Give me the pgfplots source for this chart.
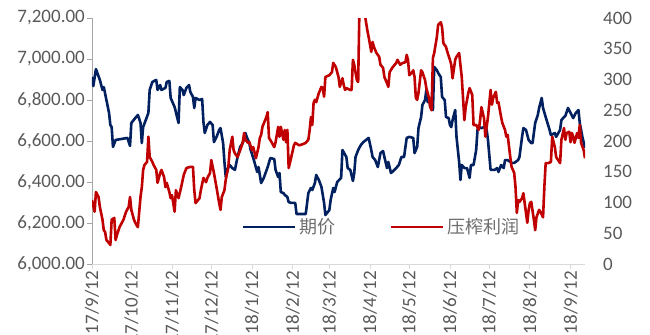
\documentclass[border=0pt]{standalone}
\usepackage{fontspec}
\setmainfont{Carlito}
\newfontfamily\cjk{Noto Sans CJK SC}
\usepackage{pgfplots}
\pgfplotsset{compat=1.18}

\definecolor{futures}{HTML}{002060}
\definecolor{margin}{HTML}{C00000}
\definecolor{labelgray}{HTML}{595959}
\definecolor{legendgray}{HTML}{6E6E6E}
\definecolor{leftaxis}{HTML}{A6A6A6}
\definecolor{baseaxis}{HTML}{D9D9D9}

\pgfplotsset{
  twin/.style={
    scale only axis, width=493bp, height=246bp,
    xmin=0, xmax=376,
    tick label style={font=\fontsize{19bp}{22bp}\selectfont, text=labelgray},
    /pgf/number format/assume math mode=true,
  },
}

\begin{document}
\begin{tikzpicture}
\useasboundingbox (-92bp,-71bp) rectangle (558bp,264bp);

% left axis: futures price
\begin{axis}[twin,
  ymin=6000, ymax=7200, ytick={6000,6200,...,7200},
  axis y line*=left, axis x line*=bottom,
  y axis line style={leftaxis, line width=0.9bp, -},
  x axis line style={baseaxis, line width=0.9bp, -},
  tick align=outside, major tick length=5bp,
  y tick style={leftaxis, line width=0.9bp},
  x tick style={baseaxis, line width=0.9bp},
  y tick label style={inner sep=2bp, /pgf/number format/fixed, /pgf/number format/fixed zerofill,
    /pgf/number format/precision=2, /pgf/number format/1000 sep={,}},
  xtick={0,30,61,91,122,153,181,212,242,273,303,334,365},
  xticklabels={17/9/12,17/10/12,17/11/12,17/12/12,18/1/12,18/2/12,18/3/12,18/4/12,18/5/12,18/6/12,18/7/12,18/8/12,18/9/12},
  x tick label style={rotate=90, anchor=east, inner sep=2bp},
]
\addplot[futures, line width=2.6bp, line join=round] coordinates {
(0,6912)(1,6868)(3,6951)(6,6898)(8,6849)(9,6863)(11,6800)(13,6737)(14,6678)(15,6668)(16,6571)(18,6605)(27,6615)(29,6576)(30,6688)(33,6712)(35,6727)(37,6688)(38,6590)(39,6668)(41,6702)(43,6737)(44,6849)(46,6888)(49,6898)(50,6849)(52,6873)(53,6849)(56,6859)(57,6888)(59,6893)(60,6810)(63,6766)(66,6688)(67,6863)(69,6849)(70,6824)(72,6859)(74,6873)(75,6839)(77,6815)(78,6761)(79,6810)(82,6800)(84,6805)(85,6693)(86,6639)(88,6678)(90,6693)(92,6678)(93,6595)(95,6620)(97,6654)(98,6663)(100,6590)(101,6498)(102,6424)(104,6473)(105,6483)(107,6468)(109,6459)(111,6522)(113,6571)(115,6590)(117,6639)(118,6620)(120,6590)(121,6556)(123,6517)(126,6449)(127,6473)(129,6395)(131,6420)(134,6473)(136,6517)(139,6512)(140,6459)(142,6424)(143,6444)(144,6351)(146,6346)(147,6337)(149,6327)(150,6302)(152,6298)(155,6298)(156,6244)(163,6244)(165,6346)(167,6371)(168,6361)(170,6395)(171,6434)(173,6410)(175,6376)(177,6298)(178,6239)(181,6263)(182,6312)(184,6371)(185,6351)(187,6400)(190,6420)(191,6556)(194,6522)(195,6468)(197,6459)(199,6405)(200,6444)(201,6522)(203,6556)(205,6580)(207,6595)(210,6610)(211,6615)(213,6556)(214,6522)(216,6507)(218,6473)(220,6541)(222,6551)(223,6522)(225,6468)(226,6498)(228,6444)(229,6449)(232,6468)(234,6483)(236,6522)(238,6522)(240,6615)(242,6620)(245,6615)(246,6541)(248,6571)(249,6663)(251,6717)(252,6776)(254,6800)(255,6849)(256,6790)(257,6815)(258,6766)(260,6751)(261,6961)(263,6946)(264,6932)(266,6912)(267,6815)(269,6800)(270,6717)(272,6712)(273,6678)(274,6668)(275,6702)(277,6751)(278,6620)(280,6498)(281,6410)(282,6483)(284,6468)(286,6468)(288,6420)(289,6483)(291,6483)(293,6556)(294,6654)(295,6668)(297,6663)(299,6668)(301,6654)(302,6605)(304,6459)(307,6459)(309,6468)(310,6449)(312,6483)(314,6468)(315,6507)(317,6507)(320,6493)(322,6493)(325,6507)(326,6522)(328,6620)(329,6663)(331,6654)(333,6605)(335,6590)(336,6590)(338,6688)(340,6727)(341,6761)(343,6810)(344,6761)(346,6717)(349,6654)(350,6629)(353,6639)(354,6620)(357,6654)(358,6702)(360,6717)(361,6722)(363,6761)(365,6737)(367,6712)(369,6737)(371,6751)(372,6688)(374,6620)(376,6566)
};
\end{axis}

% right axis: crushing margin
\begin{axis}[twin,
  ymin=0, ymax=400, ytick={0,50,...,400},
  axis y line*=right, axis x line=none,
  y axis line style={draw=none},
  major tick length=0pt,
  y tick label style={anchor=west, inner sep=0pt, xshift=18bp},
  legend image code/.code={\draw[#1] (0bp,0bp) -- (52bp,0bp);},
  legend style={at={(0.304,0.150)}, anchor=west, draw=none, fill=none,
    inner sep=0pt, outer sep=0pt,
    font={\cjk\fontsize{18bp}{20bp}\selectfont}, text=legendgray,
    nodes={inner sep=3bp},
    /tikz/every even column/.append style={column sep=51bp}},
  legend columns=2,
]
\addlegendimage{futures, line width=2.6bp}
\addlegendentry{期价}
\addplot[margin, line width=2.6bp, line join=round] coordinates {
(0,104)(2,85)(3,117)(5,109)(6,93)(8,72)(9,55)(10,52)(11,39)(13,34)(14,31)(15,72)(17,75)(18,39)(19,47)(21,60)(24,72)(26,85)(28,93)(29,109)(30,88)(32,72)(34,63)(35,60)(37,109)(38,125)(39,153)(40,161)(42,166)(43,207)(44,174)(46,166)(47,161)(49,153)(50,132)(52,148)(53,153)(55,141)(56,125)(57,132)(59,117)(60,107)(61,112)(63,85)(64,120)(66,107)(68,125)(70,145)(72,156)(75,158)(77,158)(78,120)(79,99)(82,107)(83,120)(85,140)(87,133)(88,140)(90,148)(91,169)(93,148)(95,124)(97,99)(98,88)(99,109)(101,120)(102,137)(103,148)(104,158)(105,185)(107,207)(108,185)(109,180)(111,174)(113,185)(115,198)(116,213)(117,202)(119,197)(120,198)(122,185)(123,190)(125,172)(127,190)(128,205)(129,210)(130,223)(133,239)(134,247)(135,205)(137,198)(139,190)(140,198)(142,223)(143,207)(144,223)(146,202)(147,218)(148,198)(149,218)(150,156)(152,174)(154,193)(155,197)(158,193)(161,195)(163,197)(165,202)(166,218)(167,239)(168,226)(169,262)(170,267)(171,263)(173,278)(175,288)(176,286)(177,272)(178,304)(181,307)(183,312)(184,327)(186,320)(188,304)(189,288)(191,302)(192,291)(193,283)(194,286)(197,283)(198,283)(199,332)(200,324)(202,299)(203,296)(204,420)(207,420)(210,380)(211,369)(213,345)(214,361)(215,353)(217,343)(219,337)(220,324)(222,319)(223,304)(225,294)(226,288)(227,312)(229,319)(232,327)(233,332)(235,324)(237,327)(239,328)(240,340)(241,332)(242,307)(244,311)(245,315)(246,304)(247,270)(248,267)(249,278)(251,315)(252,312)(254,299)(255,286)(257,270)(258,255)(259,250)(260,335)(261,343)(263,369)(264,389)(266,393)(267,385)(268,359)(270,353)(271,345)(273,332)(274,324)(275,302)(277,332)(278,337)(280,343)(282,304)(284,234)(285,255)(287,278)(288,286)(290,275)(291,226)(293,226)(295,218)(296,234)(297,255)(299,237)(300,207)(302,239)(304,283)(305,259)(306,270)(308,280)(309,262)(310,263)(312,239)(313,229)(315,218)(316,207)(317,210)(319,174)(320,158)(322,148)(323,125)(324,83)(325,104)(326,101)(328,107)(329,115)(330,99)(332,67)(333,88)(334,99)(335,101)(337,72)(338,55)(339,76)(341,88)(342,85)(344,76)(345,125)(346,164)(348,164)(350,166)(351,207)(353,190)(354,174)(357,164)(358,202)(360,221)(361,202)(362,213)(364,215)(365,198)(366,213)(367,207)(368,197)(370,213)(371,205)(372,226)(373,197)(375,185)(376,172)
};
\addlegendentry{压榨利润}
\end{axis}
\end{tikzpicture}
\end{document}
